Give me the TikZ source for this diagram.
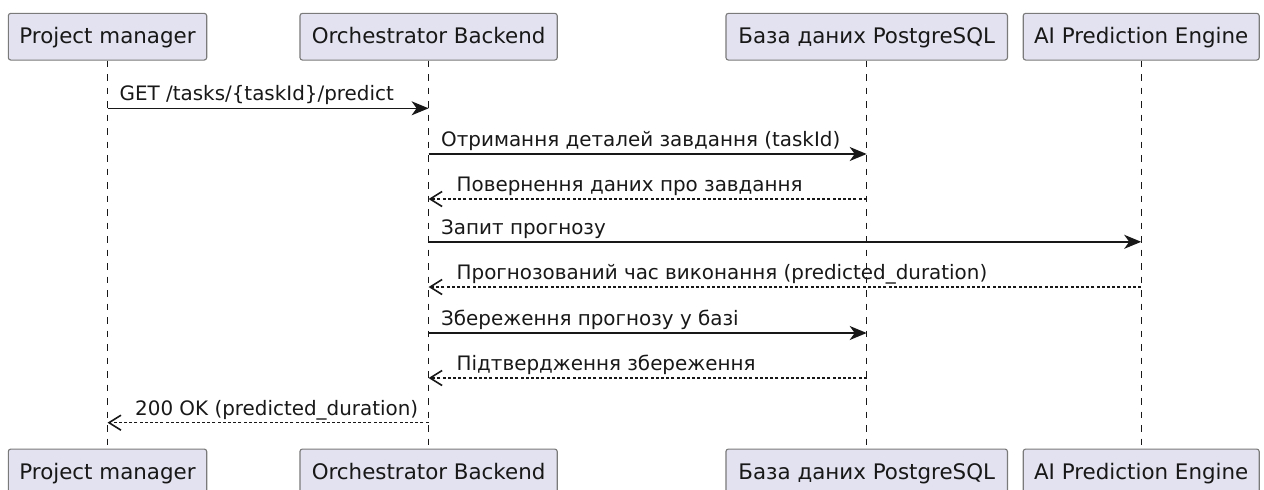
\documentclass[tikz,border=0pt]{standalone}
\usepackage{fontspec}
\setmainfont{DejaVu Sans}
\usetikzlibrary{arrows.meta}
\definecolor{partfill}{HTML}{E2E2F0}
\definecolor{partdraw}{HTML}{7A7A7A}
\definecolor{ink}{HTML}{181818}
\begin{document}
\begin{tikzpicture}[x=1pt,y=-1pt,
  part/.style={draw=partdraw, fill=partfill, line width=1.1pt, rounded corners=2.5pt,
    minimum height=46.7pt, inner sep=0pt, text=ink,
    font=\fontsize{21.4}{25}\selectfont, text height=17pt, text depth=3.7pt},
  lifeline/.style={draw=ink, line width=0.8pt, dash pattern=on 6.5pt off 7pt},
  msg/.style={draw=ink, line width=1.4pt, -{Stealth[length=17pt,width=14pt,inset=5pt]}},
  ret/.style={draw=ink, line width=1.3pt, dash pattern=on 3pt off 2.2pt,
    -{Straight Barb[length=12pt,width=15pt,line width=1.6pt]}},
  lbl/.style={anchor=base west, inner sep=0pt, text=ink,
    font=\fontsize{19.9}{24}\selectfont}]
\useasboundingbox (0,0) rectangle (1264,490);
\clip (0,0) rectangle (1264,490);
% participants (top)
\node[part, minimum width=198.4pt] (pm)  at (107.5,36.7) {Project manager};
\node[part, minimum width=257.3pt] (orch) at (428.6,36.7) {Orchestrator Backend};
\node[part, minimum width=281.5pt] (db)  at (866.7,36.7) {База даних PostgreSQL};
\node[part, minimum width=236pt]   (ai)  at (1141.2,36.7) {AI Prediction Engine};
% participants (bottom)
\node[part, minimum width=198.4pt] (pmb)  at (107.5,472.4) {Project manager};
\node[part, minimum width=257.3pt] (orchb) at (428.6,472.4) {Orchestrator Backend};
\node[part, minimum width=281.5pt] (dbb)  at (866.7,472.4) {База даних PostgreSQL};
\node[part, minimum width=236pt]   (aib)  at (1141.2,472.4) {AI Prediction Engine};
% lifelines
\draw[lifeline] (pm.south) -- (pmb.north);
\draw[lifeline] (orch.south) -- (orchb.north);
\draw[lifeline] (db.south) -- (dbb.north);
\draw[lifeline] (ai.south) -- (aib.north);
% messages
\draw[msg] (pm.south |- 0,108.3) -- (orch.south |- 0,108.3);
\node[lbl] (l1) at (119.5,100.8) {GET /tasks/\{taskId\}/predict};
\draw[msg] (orch.south |- 0,154) -- (db.south |- 0,154);
\node[lbl] (l2) at (441,146.5) {Отримання деталей завдання (taskId)};
\draw[ret] (db.south |- 0,199) -- (orch.south |- 0,199);
\node[lbl] (l3) at (456.5,191.5) {Повернення даних про завдання};
\draw[msg] (orch.south |- 0,241.8) -- (ai.south |- 0,241.8);
\node[lbl] (l4) at (441,234.3) {Запит прогнозу};
\draw[ret] (ai.south |- 0,287) -- (orch.south |- 0,287);
\node[lbl] (l5) at (456.5,279.5) {Прогнозований час виконання (predicted\_duration)};
\draw[msg] (orch.south |- 0,333) -- (db.south |- 0,333);
\node[lbl] (l6) at (441,325.5) {Збереження прогнозу у базі};
\draw[ret] (db.south |- 0,378) -- (orch.south |- 0,378);
\node[lbl] (l7) at (456.5,370.5) {Підтвердження збереження};
\draw[ret] (orch.south |- 0,422.7) -- (pm.south |- 0,422.7);
\node[lbl] (l8) at (135,415.2) {200 OK (predicted\_duration)};
\end{tikzpicture}
\end{document}
